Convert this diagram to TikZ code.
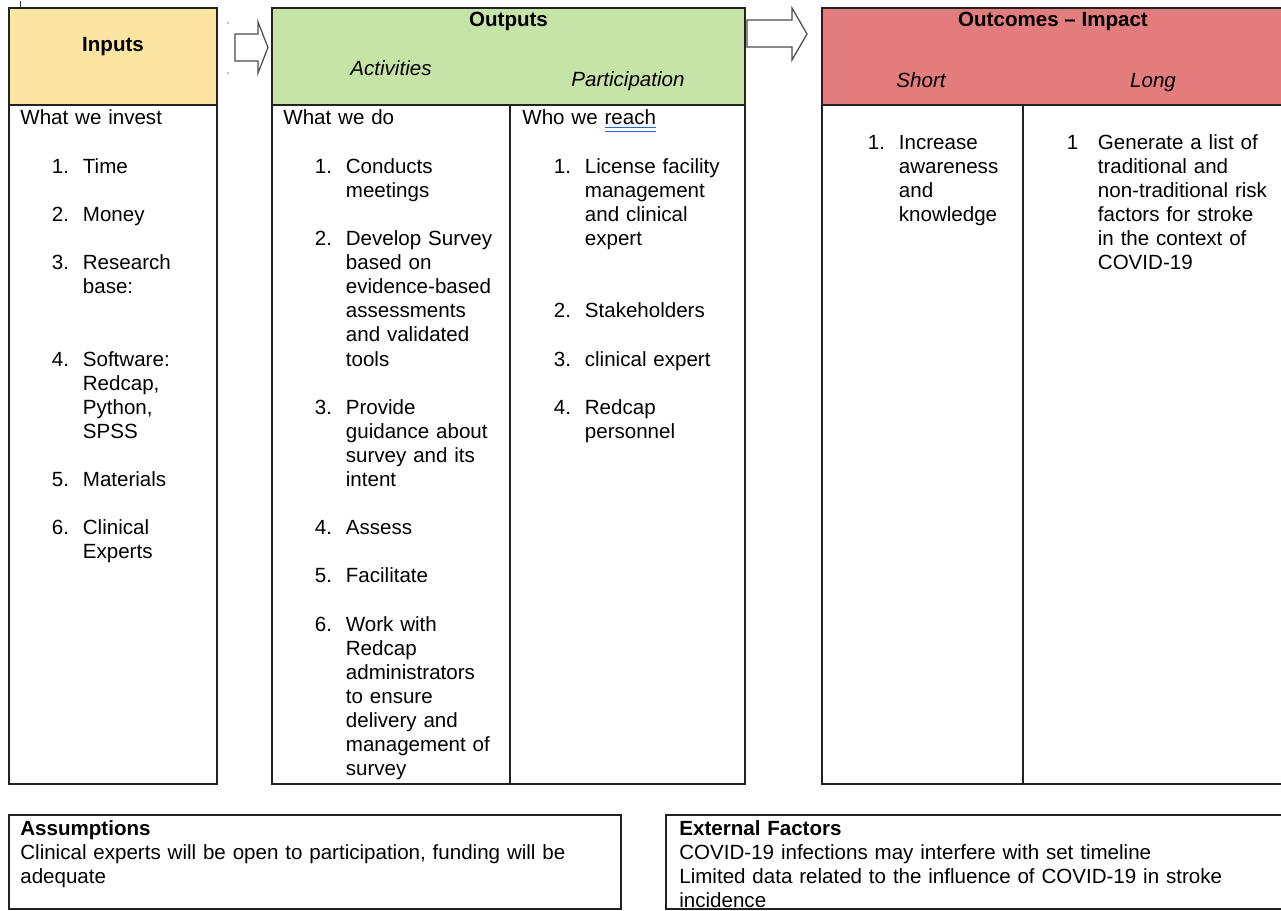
\documentclass[tikz,border=0pt]{standalone}
\usepackage{fontspec}
\setmainfont{Liberation Sans}
\usepackage{tikz}
\usetikzlibrary{calc}

\definecolor{inputfill}{HTML}{FCE5A3}
\definecolor{outputfill}{HTML}{C6E4A8}
\definecolor{outcomefill}{HTML}{E37C7C}
\definecolor{rule}{HTML}{222222}
\definecolor{checkblue}{HTML}{2F64D8}

\tikzstyle{panel} = [
    draw = rule,
    line width = 0.8pt,
]
\tikzstyle{blockarrow} = [
    draw = black!70,
    fill = white,
    line width = 0.7pt,
    line join = miter,
]
\tikzstyle{bodytext} = [
    anchor = base west,
    inner sep = 0pt,
    align = left,
    text width = 6cm,
    font = \fontsize{11.7}{13.72}\selectfont,
]
\tikzstyle{boxtext} = [bodytext, text width = 12cm]
\tikzstyle{heading} = [
    anchor = base,
    inner sep = 0pt,
    font = \fontsize{11.7}{13.72}\selectfont\bfseries,
]
\tikzstyle{subheading} = [heading, font = \fontsize{11.7}{13.72}\selectfont\itshape]

\newcommand{\itemnum}[1]{\hspace*{18pt}\makebox[17.6pt][l]{#1}}
\newcommand{\indt}{\hspace*{35.6pt}}
\newcommand{\checkul}[1]{\textcolor{checkblue}{\underline{\underline{\textcolor{black}{#1}}}}}

\begin{document}
\begin{tikzpicture} [x = 0.02cm, y = -0.02cm]
    \clip (0, 0) rectangle (1281, 911);
    \fill [white] (0, 0) rectangle (1281, 911);

    % column boxes
    \draw [panel, fill = inputfill] (9, 8) rectangle (217, 105);
    \draw [panel] (9, 105) rectangle (217, 784);

    \draw [panel, fill = outputfill] (272, 8) rectangle (745, 105);
    \draw [panel] (272, 105) rectangle (745, 784);
    \draw [panel] (510, 105) -- (510, 784);

    \draw [panel, fill = outcomefill] (822, 8) rectangle (1290, 105);
    \draw [panel] (822, 105) rectangle (1290, 784);
    \draw [panel] (1023, 105) -- (1023, 784);

    \draw [panel] (9, 815) rectangle (621, 909);
    \draw [panel] (666, 815) rectangle (1290, 909);

    \draw [black!80, line width = 0.6pt] (20.5, 1) -- (20.5, 7);
    \fill [black!45] (228, 23) circle (0.8);
    \fill [black!45] (228, 73) circle (0.8);

    % arrows between columns
    \draw [blockarrow] (235, 34) -- (258, 34) -- (258, 22) -- (268, 47.5) -- (258, 73) -- (258, 61) -- (235, 61) -- cycle;
    \draw [blockarrow] (747, 20) -- (792, 20) -- (792, 8) -- (807, 34) -- (792, 60) -- (792, 47) -- (747, 47) -- cycle;

    % headers
    \node (Inputs) [heading] at (113, 51.5) {Inputs};
    \node (Outputs) [heading] at (508.5, 27) {Outputs};
    \node (Activities) [subheading] at (391, 76) {Activities};
    \node (Participation) [subheading] at (628, 87) {Participation};
    \node (Outcomes) [heading] at (1053, 27) {Outcomes – Impact};
    \node (Short) [subheading] at (921, 88) {Short};
    \node (Long) [subheading] at (1153, 88) {Long};

    % column texts
    \node (Invest) [bodytext] at (20, 125) {What we invest\\[\baselineskip]
        \itemnum{1.}Time\\[\baselineskip]
        \itemnum{2.}Money\\[\baselineskip]
        \itemnum{3.}Research\\ \indt base:\\[2\baselineskip]
        \itemnum{4.}Software:\\ \indt Redcap,\\ \indt Python,\\ \indt SPSS\\[\baselineskip]
        \itemnum{5.}Materials\\[\baselineskip]
        \itemnum{6.}Clinical\\ \indt Experts};

    \node (Do) [bodytext] at (283, 125) {What we do\\[\baselineskip]
        \itemnum{1.}Conducts\\ \indt meetings\\[\baselineskip]
        \itemnum{2.}Develop Survey\\ \indt based on\\ \indt evidence-based\\ \indt assessments\\ \indt and validated\\ \indt tools\\[\baselineskip]
        \itemnum{3.}Provide\\ \indt guidance about\\ \indt survey and its\\ \indt intent\\[\baselineskip]
        \itemnum{4.}Assess\\[\baselineskip]
        \itemnum{5.}Facilitate\\[\baselineskip]
        \itemnum{6.}Work with\\ \indt Redcap\\ \indt administrators\\ \indt to ensure\\ \indt delivery and\\ \indt management of\\ \indt survey};

    \node (Reach) [bodytext] at (522, 125) {Who we \checkul{reach}\\[\baselineskip]
        \itemnum{1.}License facility\\ \indt management\\ \indt and clinical\\ \indt expert\\[2\baselineskip]
        \itemnum{2.}Stakeholders\\[\baselineskip]
        \itemnum{3.}clinical expert\\[\baselineskip]
        \itemnum{4.}Redcap\\ \indt personnel};

    \node (ShortText) [bodytext] at (836, 149.2) {\itemnum{1.}Increase\\ \indt awareness\\ \indt and\\ \indt knowledge};

    \node (LongText) [bodytext] at (1035, 149.2) {\itemnum{1}Generate a list of\\ \indt traditional and\\ \indt non-traditional risk\\ \indt factors for stroke\\ \indt in the context of\\ \indt COVID-19};

    % bottom boxes
    \node (Assumptions) [boxtext] at (20, 835) {\textbf{Assumptions}\\
        Clinical experts will be open to participation, funding will be\\
        adequate};
    \node (External) [boxtext] at (679, 835) {\textbf{External Factors}\\
        COVID-19 infections may interfere with set timeline\\
        Limited data related to the influence of COVID-19 in stroke\\
        incidence};
\end{tikzpicture}
\end{document}
